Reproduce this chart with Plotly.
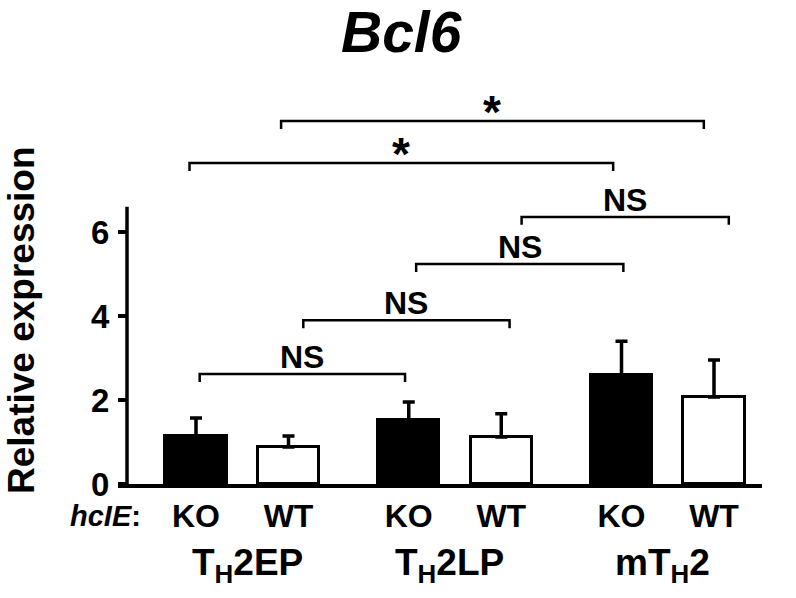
import plotly.graph_objects as go

# ---- data ----
genotypes = ["KO", "WT", "KO", "WT", "KO", "WT"]
positions = [0.0, 1.0, 2.3, 3.3, 4.6, 5.6]
means = [1.14, 0.88, 1.52, 1.12, 2.60, 2.07]
errors = [0.43, 0.26, 0.43, 0.55, 0.80, 0.88]
fills = ["black", "white", "black", "white", "black", "white"]
groups = ["T<sub>H</sub>2EP", "T<sub>H</sub>2LP", "mT<sub>H</sub>2"]
group_members = [(0, 1), (2, 3), (4, 5)]
group_label_offsets = [0.06, -0.06, -0.06]
y_ticks = [0, 2, 4, 6]
# brackets: (left bar, right bar, level, label, left offset, right offset)
brackets = [
    (0, 2, 2.62, "NS", 0.04, -0.04),
    (1, 3, 3.90, "NS", 0.16, 0.09),
    (2, 4, 5.24, "NS", 0.08, 0.02),
    (3, 5, 6.36, "NS", 0.22, 0.16),
    (0, 4, 7.64, "*", -0.07, -0.09),
    (1, 5, 8.64, "*", -0.08, -0.11),
]

FONT = "Liberation Sans, Arial, sans-serif"

fig = go.Figure()
fig.add_trace(go.Bar(
    x=positions, y=means, width=0.66,
    marker=dict(color=fills, line=dict(color="black", width=3)),
    error_y=dict(type="data", symmetric=False, array=errors,
                 arrayminus=[0] * len(errors), color="black",
                 thickness=3.5, width=6),
    showlegend=False, hoverinfo="skip",
))

L, R, T, B = 118, 34, 80, 114
W, H = 796, 598
pw = W - L - R
ph = H - T - B
x_per_px = 1 / 92.5
xr = [-78 * x_per_px, (pw - 78) * x_per_px]
yr = [0, ph / 42.0]
ypos = (127 - 118) / pw

fig.update_layout(
    width=W, height=H,
    margin=dict(l=L, r=R, t=T, b=B, pad=0),
    plot_bgcolor="white", paper_bgcolor="white",
    font=dict(family=FONT, color="black"),
    bargap=0,
    xaxis=dict(range=xr, showgrid=False, zeroline=False,
               showline=True, linecolor="black", linewidth=3.5,
               tickvals=positions, ticktext=genotypes, ticks="",
               tickfont=dict(size=32, family=FONT, weight="bold"),
               ticklabelstandoff=1),
    yaxis=dict(range=yr, showgrid=False, zeroline=False, showline=False,
               anchor="free", position=ypos,
               tickvals=y_ticks, ticks="outside", ticklen=9,
               tickwidth=3.5, tickcolor="black",
               tickfont=dict(size=33, family=FONT, weight="bold"),
               ticklabelstandoff=2),
)

shapes = []
# y-axis line (stops above the top tick)
shapes.append(dict(type="line", xref="paper", yref="y", x0=ypos, x1=ypos,
                   y0=0, y1=6.6, line=dict(color="black", width=3.5)))
annotations = []
drop = 0.19
for li, ri, lvl, lab, lo, ro in brackets:
    x0 = positions[li] + lo
    x1 = positions[ri] + ro
    path = f"M {x0},{lvl - drop} L {x0},{lvl} L {x1},{lvl} L {x1},{lvl - drop}"
    shapes.append(dict(type="path", xref="x", yref="y", path=path,
                       line=dict(color="black", width=2.5)))
    if lab == "*":
        annotations.append(dict(x=(x0 + x1) / 2, y=lvl, xref="x", yref="y",
                                text="<b>*</b>", showarrow=False,
                                yanchor="middle", yshift=9,
                                font=dict(size=46, family=FONT)))
    else:
        annotations.append(dict(x=(x0 + x1) / 2, y=lvl, xref="x", yref="y",
                                text="<b>" + lab + "</b>", showarrow=False,
                                yanchor="middle", yshift=17,
                                font=dict(size=32, family=FONT)))

for g, (a, b), off in zip(groups, group_members, group_label_offsets):
    annotations.append(dict(x=(positions[a] + positions[b]) / 2 + off,
                            y=(ph - (565 - T)) / ph, yanchor="middle",
                            xref="x", yref="paper", showarrow=False,
                            text="<b>" + g + "</b>", font=dict(size=37, family=FONT)))

annotations.append(dict(x=(105 - L) / pw, y=(ph - (516 - T)) / ph,
                        xref="paper", yref="paper", showarrow=False,
                        xanchor="center", yanchor="middle",
                        text="<b><i>hcIE</i>:</b>", font=dict(size=29, family=FONT)))
annotations.append(dict(x=(21 - L) / pw, y=(ph - (320 - T)) / ph,
                        xref="paper", yref="paper", showarrow=False,
                        xanchor="center", yanchor="middle", textangle=-90,
                        text="<b>Relative expression</b>", font=dict(size=37, family=FONT)))
annotations.append(dict(x=(401 - L) / pw, y=(ph - (32 - T)) / ph,
                        xref="paper", yref="paper", showarrow=False,
                        xanchor="center", yanchor="middle",
                        text="<b><i>Bcl6</i></b>", font=dict(size=57, family=FONT)))

fig.update_layout(shapes=shapes, annotations=annotations)
fig.write_html("out.html", config={"displayModeBar": False},
               post_script="document.body.style.margin='0';document.body.style.padding='0';")
